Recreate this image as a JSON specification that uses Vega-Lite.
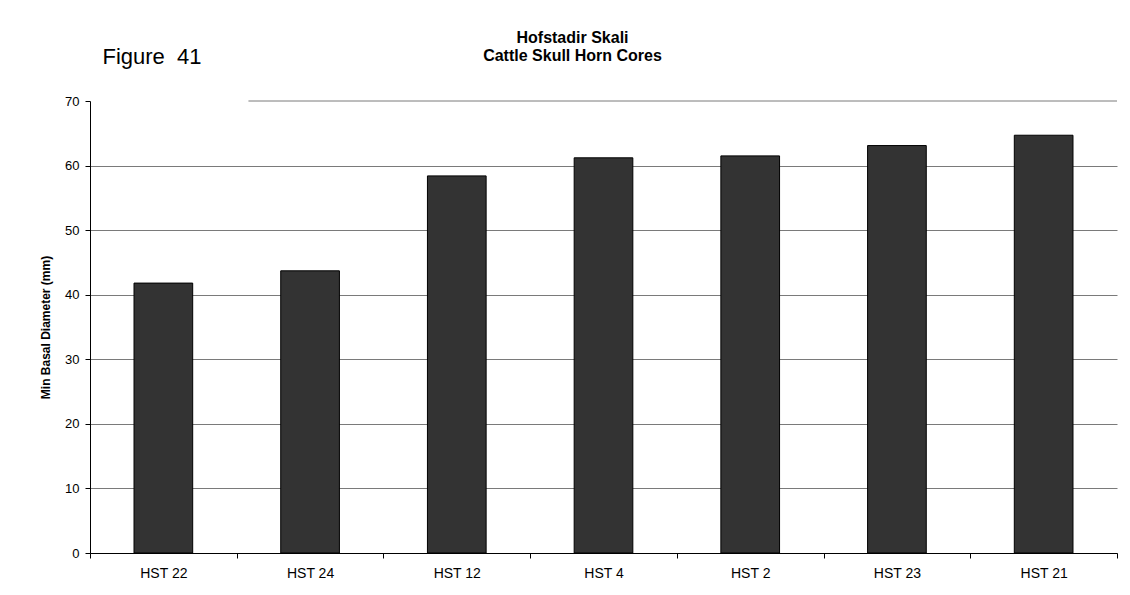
{
  "$schema": "https://vega.github.io/schema/vega-lite/v6.json",
  "width": 1027,
  "height": 452,
  "autosize": {"type": "none"},
  "padding": {"left": 90, "top": 101, "right": 13, "bottom": 42},
  "background": "white",
  "config": {"view": {"stroke": null}, "font": "Liberation Sans"},
  "title": {
    "text": ["Hofstadir Skali", "Cattle Skull Horn Cores"],
    "fontSize": 16,
    "fontWeight": "bold",
    "font": "Liberation Sans",
    "color": "#000000",
    "anchor": "middle",
    "dx": -31,
    "offset": -19,
    "lineHeight": 18
  },
  "datasets": {
    "bars": [
      {"sample": "HST 22", "value": 41.8},
      {"sample": "HST 24", "value": 43.7},
      {"sample": "HST 12", "value": 58.4},
      {"sample": "HST 4", "value": 61.2},
      {"sample": "HST 2", "value": 61.5},
      {"sample": "HST 23", "value": 63.1},
      {"sample": "HST 21", "value": 64.7}
    ],
    "topline": [
      {"sample": "HST 24", "sample_end": "HST 21", "value": 70}
    ]
  },
  "layer": [
    {
      "data": {"name": "bars"},
      "mark": {"type": "bar", "fill": "#333333", "stroke": "#000000", "strokeWidth": 1, "width": {"band": 0.4}},
      "encoding": {
        "x": {
          "field": "sample",
          "type": "nominal",
          "sort": null,
          "scale": {"paddingInner": 0, "paddingOuter": 0},
          "axis": {
            "title": null,
            "labelAngle": 0,
            "labelFontSize": 14,
            "labelColor": "#000000",
            "labelPadding": 8,
            "tickBand": "extent",
            "tickSize": 5,
            "tickColor": "#000000",
            "domainColor": "#000000"
          }
        },
        "y": {
          "field": "value",
          "type": "quantitative",
          "scale": {"domain": [0, 70]},
          "axis": {
            "title": "Min Basal Diameter (mm)",
            "titleFontSize": 12,
            "titleFontWeight": "bold",
            "titleColor": "#000000",
            "titlePadding": 12,
            "values": [0, 10, 20, 30, 40, 50, 60, 70],
            "labelFontSize": 13,
            "labelColor": "#000000",
            "labelPadding": 6,
            "tickSize": 5,
            "tickColor": "#000000",
            "domainColor": "#000000",
            "grid": true,
            "gridColor": "#7a7a7a",
            "gridOpacity": {"condition": {"test": "datum.value === 70", "value": 0}, "value": 1}
          }
        }
      }
    },
    {
      "data": {"name": "topline"},
      "mark": {"type": "rule", "color": "#7a7a7a", "strokeWidth": 1},
      "encoding": {
        "x": {
          "field": "sample",
          "type": "nominal",
          "sort": null,
          "bandPosition": 0.08,
          "axis": {
            "orient": "top",
            "title": "Figure\u00a0\u00a041",
            "titleFontSize": 22,
            "titleFontWeight": "normal",
            "titleColor": "#000000",
            "titleAnchor": "start",
            "titleAlign": "left",
            "titleBaseline": "alphabetic",
            "titleX": 12,
            "titleY": -38,
            "domain": false,
            "ticks": false,
            "labels": false,
            "grid": false
          }
        },
        "x2": {"field": "sample_end", "bandPosition": 1},
        "y": {"field": "value", "type": "quantitative"}
      }
    }
  ],
  "resolve": {"axis": {"x": "independent"}}
}
